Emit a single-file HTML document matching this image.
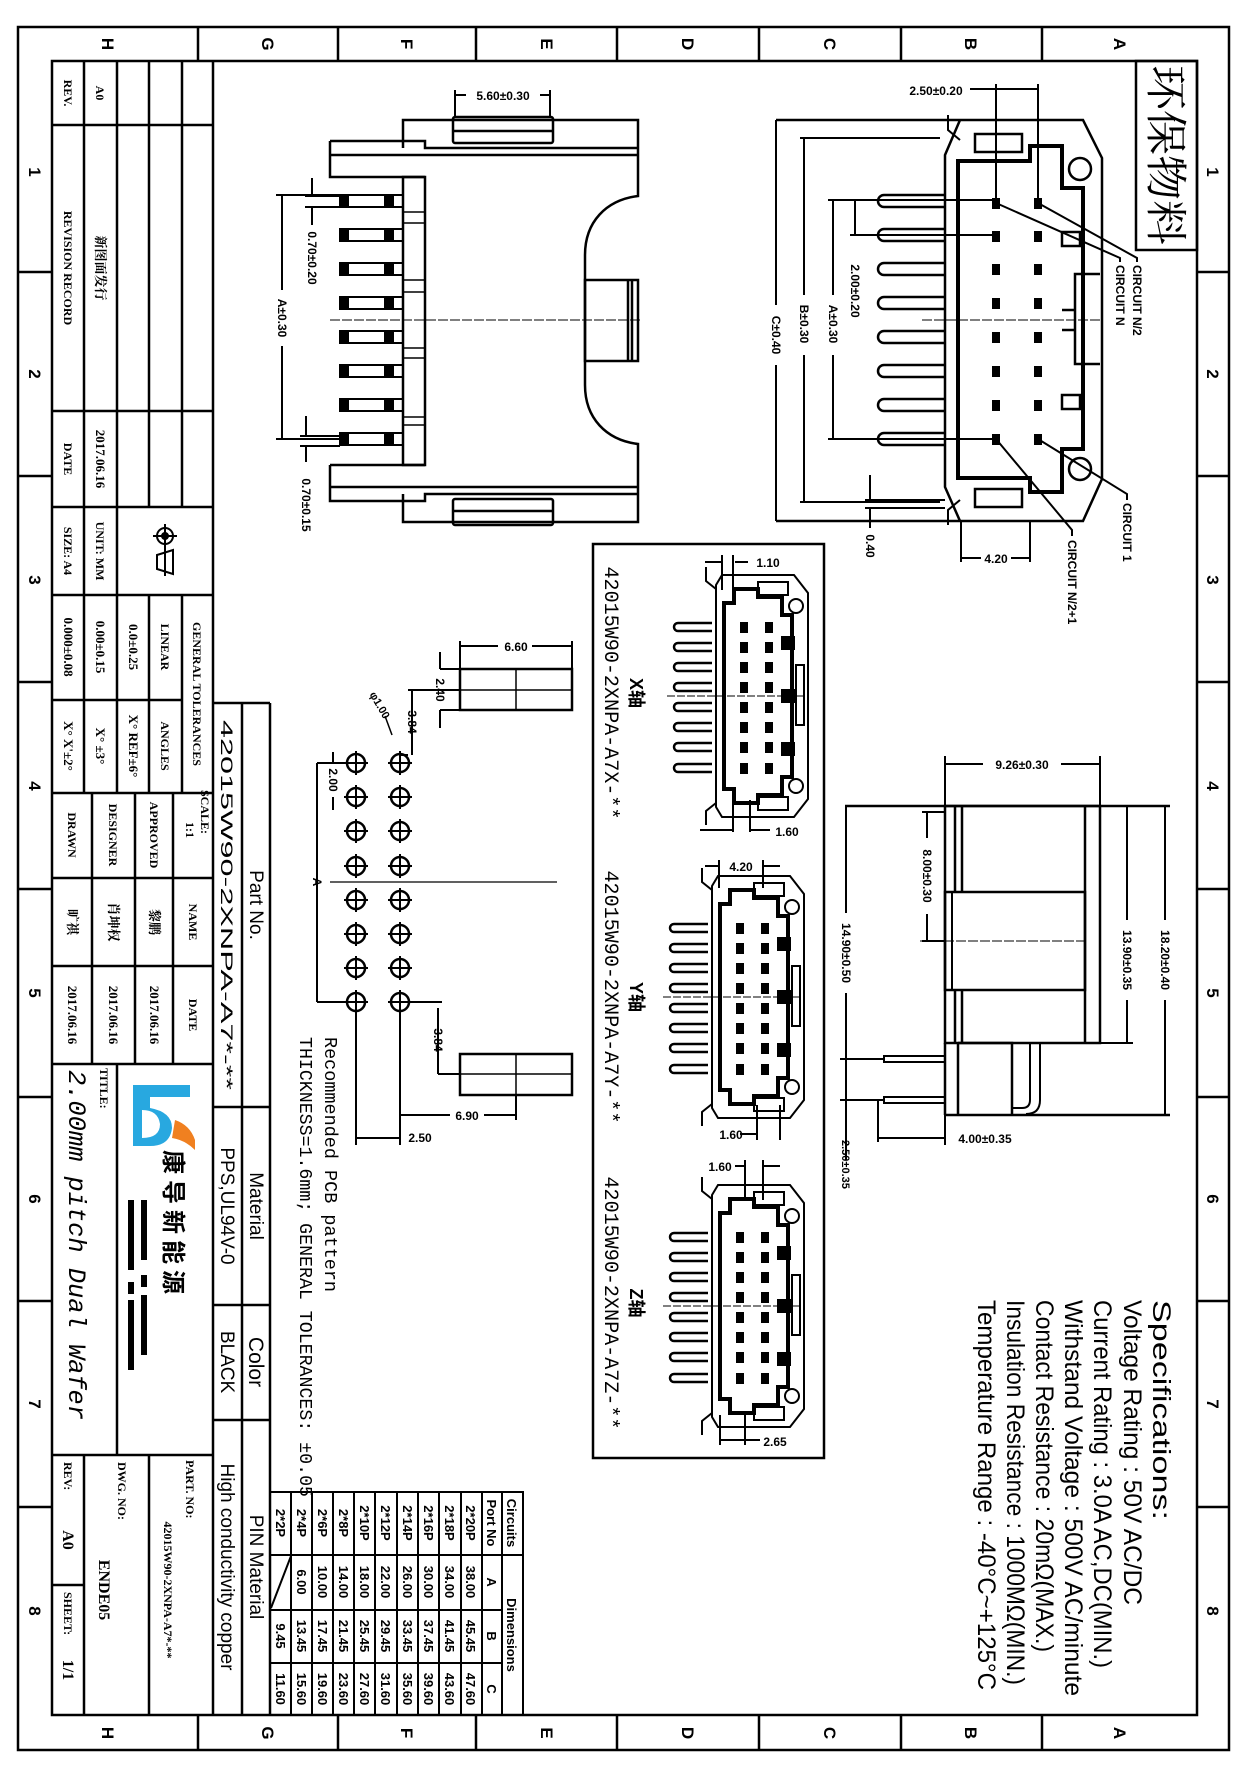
<!DOCTYPE html>
<html><head><meta charset="utf-8"><style>
html,body{margin:0;padding:0;background:#fff;}
svg{display:block}
.s{font-family:"Liberation Sans","Noto Sans CJK SC",sans-serif;}
.m{font-family:"Liberation Mono","Noto Sans CJK SC",monospace;}
.f{font-family:"Liberation Serif","Noto Serif CJK SC",serif;}
.d{font-family:"Liberation Sans",sans-serif;font-size:12px;font-weight:bold;}
</style></head><body>
<svg width="1249" height="1778" viewBox="0 0 1249 1778" xmlns="http://www.w3.org/2000/svg">
<rect width="1249" height="1778" fill="#fff"/>
<defs>
<g id="pinF"><path d="M945,-6 H884 A6,6 0 0 0 884,6 H945" fill="none" stroke="#000" stroke-width="2.5"/></g>
<g id="cr" fill="#000"><rect x="992" y="-5" width="8" height="11"/><rect x="1034" y="-5" width="8" height="11"/></g>
<g id="pinS"><rect x="340" y="-6" width="63" height="12" fill="none" stroke="#000" stroke-width="2"/><rect x="340" y="-6" width="9" height="12" fill="#000"/><rect x="384" y="-6" width="10" height="12" fill="#000"/></g>
<g id="hole"><circle r="9" fill="none" stroke="#000" stroke-width="2.5"/><line x1="-12" y1="0" x2="12" y2="0" stroke="#000" stroke-width="2"/><line x1="0" y1="-12" x2="0" y2="12" stroke="#000" stroke-width="2"/></g>
<g id="mp"><path d="M0,-4 H-34 A4,4 0 0 0 -34,4 H0" fill="none" stroke="#000" stroke-width="2.5"/><rect x="29" y="-4" width="6" height="9" fill="#000"/><rect x="54" y="-4" width="6" height="9" fill="#000"/></g>
<g id="mc" fill="none" stroke="#000" stroke-width="2">
 <path d="M10,0 H82 L96,18 V224 L82,242 H10 L4,232 V10 Z"/>
 <path d="M12,28 H22 V14 H46 V22 H70 V40 H80 V202 H70 V220 H46 V228 H22 V214 H12 Z" stroke-width="4"/>
 <rect x="46" y="7" width="30" height="13"/><rect x="46" y="222" width="30" height="13"/>
 <circle cx="84" cy="31" r="7"/><circle cx="84" cy="211" r="7"/>
 <rect x="70" y="62" width="12" height="12" fill="#000"/><rect x="70" y="115" width="12" height="12" fill="#000"/><rect x="70" y="168" width="12" height="12" fill="#000"/>
 <rect x="84" y="90" width="8" height="60"/>
 <path d="M-6,-8 V6 L4,14"/><path d="M-6,250 V236 L4,228"/>
 <line x1="-45" y1="121" x2="96" y2="121" stroke-width="1" stroke-dasharray="8,2"/>
 <use href="#mp" y="52"/><use href="#mp" y="72"/><use href="#mp" y="92"/><use href="#mp" y="112"/><use href="#mp" y="132"/><use href="#mp" y="152"/><use href="#mp" y="172"/><use href="#mp" y="193"/>
</g>
</defs>

<!-- FRAME -->
<g fill="none" stroke="#000" stroke-width="2.5">
<rect x="18" y="27" width="1211" height="1723"/>
<rect x="52" y="61" width="1145" height="1654"/>
<path d="M198,27V61M338,27V61M476,27V61M617,27V61M759,27V61M901,27V61M1042,27V61 M198,1715V1750M338,1715V1750M476,1715V1750M617,1715V1750M759,1715V1750M901,1715V1750M1042,1715V1750 M18,272H52M18,476H52M18,682H52M18,889H52M18,1097H52M18,1301H52M18,1507H52 M1197,272H1229M1197,476H1229M1197,682H1229M1197,889H1229M1197,1097H1229M1197,1301H1229M1197,1507H1229"/>
</g>
<g class="s" font-size="17" font-weight="bold" text-anchor="middle">
<text transform="translate(108,44) rotate(90)" dy="6">H</text><text transform="translate(268,44) rotate(90)" dy="6">G</text><text transform="translate(407,44) rotate(90)" dy="6">F</text><text transform="translate(547,44) rotate(90)" dy="6">E</text><text transform="translate(688,44) rotate(90)" dy="6">D</text><text transform="translate(830,44) rotate(90)" dy="6">C</text><text transform="translate(971,44) rotate(90)" dy="6">B</text><text transform="translate(1120,44) rotate(90)" dy="6">A</text>
<text transform="translate(108,1733) rotate(90)" dy="6">H</text><text transform="translate(268,1733) rotate(90)" dy="6">G</text><text transform="translate(407,1733) rotate(90)" dy="6">F</text><text transform="translate(547,1733) rotate(90)" dy="6">E</text><text transform="translate(688,1733) rotate(90)" dy="6">D</text><text transform="translate(830,1733) rotate(90)" dy="6">C</text><text transform="translate(971,1733) rotate(90)" dy="6">B</text><text transform="translate(1120,1733) rotate(90)" dy="6">A</text>
<text transform="translate(35,172) rotate(90)" dy="6">1</text><text transform="translate(35,374) rotate(90)" dy="6">2</text><text transform="translate(35,580) rotate(90)" dy="6">3</text><text transform="translate(35,786) rotate(90)" dy="6">4</text><text transform="translate(35,993) rotate(90)" dy="6">5</text><text transform="translate(35,1199) rotate(90)" dy="6">6</text><text transform="translate(35,1404) rotate(90)" dy="6">7</text><text transform="translate(35,1611) rotate(90)" dy="6">8</text>
<text transform="translate(1213,172) rotate(90)" dy="6">1</text><text transform="translate(1213,374) rotate(90)" dy="6">2</text><text transform="translate(1213,580) rotate(90)" dy="6">3</text><text transform="translate(1213,786) rotate(90)" dy="6">4</text><text transform="translate(1213,993) rotate(90)" dy="6">5</text><text transform="translate(1213,1199) rotate(90)" dy="6">6</text><text transform="translate(1213,1404) rotate(90)" dy="6">7</text><text transform="translate(1213,1611) rotate(90)" dy="6">8</text>
</g>

<!-- TITLE BLOCK LINES -->
<g fill="none" stroke="#000" stroke-width="2.5">
<path d="M84,61V793 M117,61V793 M149,61V507 M149,595V793 M182,61V507 M182,595V793 M213,61V1715
M52,125H213 M52,411H213 M52,507H213 M52,595H213 M52,700H182 M52,793H213
M92,793V1064 M135,793V1064 M173,793V1064 M52,878H213 M52,966H213 M52,1064H213
M117,1064V1455 M52,1455H213 M84,1455V1715 M149,1455V1715 M52,1585H84
M242,703V1715 M270,703V1715 M213,703H270 M213,1107H270 M213,1305H270 M213,1420H270"/>
</g>
<g class="f" font-size="12" font-weight="bold" text-anchor="middle">
<text transform="translate(68,93) rotate(90)" dy="4">REV.</text>
<text transform="translate(100,93) rotate(90)" dy="4">A0</text>
<text transform="translate(68,268) rotate(90)" dy="4">REVISION RECORD</text>
<text transform="translate(100,268) rotate(90)" dy="4" font-size="13">新图面发行</text>
<text transform="translate(68,459) rotate(90)" dy="4">DATE</text>
<text transform="translate(100,459) rotate(90)" dy="4" font-size="13">2017.06.16</text>
<text transform="translate(68,551) rotate(90)" dy="4">SIZE: A4</text>
<text transform="translate(100,551) rotate(90)" dy="4">UNIT: MM</text>
<text transform="translate(68,647) rotate(90)" dy="4" font-size="13">0.000±0.08</text>
<text transform="translate(100,647) rotate(90)" dy="4" font-size="13">0.00±0.15</text>
<text transform="translate(133,647) rotate(90)" dy="4" font-size="13">0.0±0.25</text>
<text transform="translate(165,647) rotate(90)" dy="4">LINEAR</text>
<text transform="translate(197,694) rotate(90)" dy="4">GENERAL TOLERANCES</text>
<text transform="translate(68,746) rotate(90)" dy="4" font-size="13">X° X'±2°</text>
<text transform="translate(100,746) rotate(90)" dy="4" font-size="13">X° ±3°</text>
<text transform="translate(133,746) rotate(90)" dy="4" font-size="13">X° REF±6°</text>
<text transform="translate(165,746) rotate(90)" dy="4">ANGLES</text>
<text transform="translate(72,835) rotate(90)" dy="4">DRAWN</text>
<text transform="translate(113,835) rotate(90)" dy="4">DESIGNER</text>
<text transform="translate(154,835) rotate(90)" dy="4">APPROVED</text>
<text transform="translate(205,812) rotate(90)" dy="4">SCALE:</text>
<text transform="translate(190,830) rotate(90)" dy="4">1:1</text>
<text transform="translate(72,922) rotate(90)" dy="4" font-size="13">旷祺</text>
<text transform="translate(113,922) rotate(90)" dy="4" font-size="13">肖坤权</text>
<text transform="translate(154,922) rotate(90)" dy="4" font-size="13">黎鹏</text>
<text transform="translate(193,922) rotate(90)" dy="4">NAME</text>
<text transform="translate(72,1015) rotate(90)" dy="4" font-size="13">2017.06.16</text>
<text transform="translate(113,1015) rotate(90)" dy="4" font-size="13">2017.06.16</text>
<text transform="translate(154,1015) rotate(90)" dy="4" font-size="13">2017.06.16</text>
<text transform="translate(193,1015) rotate(90)" dy="4">DATE</text>
<text transform="translate(104,1068) rotate(90)" dy="4" text-anchor="start">TITLE:</text>
<text transform="translate(68,1462) rotate(90)" dy="4" text-anchor="start">REV:</text>
<text transform="translate(68,1540) rotate(90)" dy="5" font-size="16">A0</text>
<text transform="translate(68,1592) rotate(90)" dy="4" text-anchor="start">SHEET:</text>
<text transform="translate(68,1670) rotate(90)" dy="5" font-size="16">1/1</text>
<text transform="translate(122,1462) rotate(90)" dy="4" text-anchor="start">DWG. NO:</text>
<text transform="translate(104,1590) rotate(90)" dy="5" font-size="16">ENDE05</text>
<text transform="translate(190,1460) rotate(90)" dy="4" text-anchor="start">PART. NO:</text>
<text transform="translate(168,1590) rotate(90)" dy="4">42015W90-2XNPA-A7*-**</text>
</g>
<!-- projection symbol -->
<g fill="none" stroke="#000" stroke-width="2">
<circle cx="165" cy="536" r="8"/><circle cx="165" cy="536" r="3" fill="#000"/><path d="M153,536H177M165,524V548"/>
<path d="M157,555 L173,550 L173,574 L157,569 Z M165,548V576"/>
</g>
<g class="m" font-size="25" font-style="italic">
<text transform="translate(78,1070) rotate(90)" dy="9" textLength="350" lengthAdjust="spacingAndGlyphs">2.00mm pitch Dual Wafer</text>
</g>
<!-- logo -->
<path d="M133,1085 L190,1085 L190,1097 L150,1097 L150,1108 Q172,1112 172,1128 Q170,1146 150,1146 L133,1146 Z" fill="#28a8e0"/>
<path d="M142,1100 L142,1138 Q160,1138 160,1124 Q158,1110 142,1110" fill="#fff"/>
<path d="M175,1120 Q190,1125 195,1140 L195,1150 Q185,1140 172,1138 Z" fill="#f08020"/>
<g class="s" font-size="24" font-weight="bold" text-anchor="start">
<text transform="translate(173,1150) rotate(90)" dy="8" letter-spacing="6">康导新能源</text>
</g>
<g fill="#000"><rect x="141" y="1200" width="6" height="60"/><rect x="141" y="1275" width="6" height="12"/><rect x="141" y="1295" width="6" height="60"/><rect x="128" y="1200" width="6" height="70"/><rect x="128" y="1282" width="6" height="12"/><rect x="128" y="1300" width="6" height="70"/></g>
<g class="s" text-anchor="middle">
<text transform="translate(256,905) rotate(90)" dy="6" font-size="19">Part No.</text>
<text transform="translate(227,905) rotate(90)" dy="6" font-size="17" textLength="370" lengthAdjust="spacingAndGlyphs">42015W90-2XNPA-A7*-**</text>
<text transform="translate(256,1206) rotate(90)" dy="6" font-size="19">Material</text>
<text transform="translate(227,1206) rotate(90)" dy="6" font-size="19">PPS,UL94V-0</text>
<text transform="translate(256,1362) rotate(90)" dy="7" font-size="21">Color</text>
<text transform="translate(227,1362) rotate(90)" dy="6" font-size="19">BLACK</text>
<text transform="translate(256,1567) rotate(90)" dy="6" font-size="19">PIN Material</text>
<text transform="translate(227,1567) rotate(90)" dy="6" font-size="19">High conductivity copper</text>
</g>

<!-- DIMENSION TABLE -->
<g fill="none" stroke="#000" stroke-width="2">
<rect x="270" y="1492" width="253" height="223"/>
<path d="M291,1492V1715M312,1492V1715M333,1492V1715M354,1492V1715M375,1492V1715M397,1492V1715M418,1492V1715M439,1492V1715M461,1492V1715M482,1492V1715M502,1492V1715 M270,1555H523 M270,1610H502 M270,1663H502 M271,1608 L291,1556"/>
</g>
<g class="s" font-size="13" font-weight="bold" text-anchor="middle">
<text transform="translate(512,1523) rotate(90)" dy="5">Circuits</text>
<text transform="translate(492,1523) rotate(90)" dy="5">Port No</text>
<text transform="translate(512,1635) rotate(90)" dy="5">Dimensions</text>
<text transform="translate(492,1582) rotate(90)" dy="5">A</text><text transform="translate(492,1636) rotate(90)" dy="5">B</text><text transform="translate(492,1689) rotate(90)" dy="5">C</text>
<text transform="translate(471,1523) rotate(90)" dy="5">2*20P</text><text transform="translate(471,1582) rotate(90)" dy="5">38.00</text><text transform="translate(471,1636) rotate(90)" dy="5">45.45</text><text transform="translate(471,1689) rotate(90)" dy="5">47.60</text>
<text transform="translate(450,1523) rotate(90)" dy="5">2*18P</text><text transform="translate(450,1582) rotate(90)" dy="5">34.00</text><text transform="translate(450,1636) rotate(90)" dy="5">41.45</text><text transform="translate(450,1689) rotate(90)" dy="5">43.60</text>
<text transform="translate(429,1523) rotate(90)" dy="5">2*16P</text><text transform="translate(429,1582) rotate(90)" dy="5">30.00</text><text transform="translate(429,1636) rotate(90)" dy="5">37.45</text><text transform="translate(429,1689) rotate(90)" dy="5">39.60</text>
<text transform="translate(408,1523) rotate(90)" dy="5">2*14P</text><text transform="translate(408,1582) rotate(90)" dy="5">26.00</text><text transform="translate(408,1636) rotate(90)" dy="5">33.45</text><text transform="translate(408,1689) rotate(90)" dy="5">35.60</text>
<text transform="translate(386,1523) rotate(90)" dy="5">2*12P</text><text transform="translate(386,1582) rotate(90)" dy="5">22.00</text><text transform="translate(386,1636) rotate(90)" dy="5">29.45</text><text transform="translate(386,1689) rotate(90)" dy="5">31.60</text>
<text transform="translate(365,1523) rotate(90)" dy="5">2*10P</text><text transform="translate(365,1582) rotate(90)" dy="5">18.00</text><text transform="translate(365,1636) rotate(90)" dy="5">25.45</text><text transform="translate(365,1689) rotate(90)" dy="5">27.60</text>
<text transform="translate(344,1523) rotate(90)" dy="5">2*8P</text><text transform="translate(344,1582) rotate(90)" dy="5">14.00</text><text transform="translate(344,1636) rotate(90)" dy="5">21.45</text><text transform="translate(344,1689) rotate(90)" dy="5">23.60</text>
<text transform="translate(323,1523) rotate(90)" dy="5">2*6P</text><text transform="translate(323,1582) rotate(90)" dy="5">10.00</text><text transform="translate(323,1636) rotate(90)" dy="5">17.45</text><text transform="translate(323,1689) rotate(90)" dy="5">19.60</text>
<text transform="translate(302,1523) rotate(90)" dy="5">2*4P</text><text transform="translate(302,1582) rotate(90)" dy="5">6.00</text><text transform="translate(302,1636) rotate(90)" dy="5">13.45</text><text transform="translate(302,1689) rotate(90)" dy="5">15.60</text>
<text transform="translate(281,1523) rotate(90)" dy="5">2*2P</text><text transform="translate(281,1636) rotate(90)" dy="5">9.45</text><text transform="translate(281,1689) rotate(90)" dy="5">11.60</text>
</g>

<!-- SIDE VIEW (top-left) -->
<g fill="none" stroke="#000" stroke-width="2.5">
<path d="M403,148 V120 H638 V196 C606,200 585,222 585,255 V385 C585,418 606,440 638,444 V522 H403 V494"/>
<path d="M330,141 H425 V148 H638 M330,141 V177 H425 M330,155 H638"/>
<path d="M330,465 H425 M330,465 V501 H425 V494 H638 M330,487 H638"/>
<rect x="403" y="177" width="22" height="288"/>
<rect x="453" y="117" width="100" height="26" rx="2"/><path d="M453,131H553"/>
<rect x="453" y="499" width="100" height="26" rx="2"/><path d="M453,511H553"/>
<rect x="585" y="280" width="53" height="81"/><path d="M628,280V361M632,280V361"/>
<path d="M403,212H425M403,223H425M403,280H425M403,292H425M403,348H425M403,358H425M403,417H425M403,425H425" stroke-width="1.5"/>
</g>
<use href="#pinS" y="201"/><use href="#pinS" y="235"/><use href="#pinS" y="269"/><use href="#pinS" y="303"/><use href="#pinS" y="337"/><use href="#pinS" y="371"/><use href="#pinS" y="405"/><use href="#pinS" y="439"/>
<line x1="330" y1="320" x2="640" y2="320" stroke="#000" stroke-width="1" stroke-dasharray="10,2"/>
<g fill="none" stroke="#000" stroke-width="2">
<path d="M455,90V117M550,90V117M455,95H550"/>
<path d="M276,195H340M276,439H340M282,195V439"/>
<path d="M312,178V196M312,207V225M305,196H340M305,207H340"/>
<path d="M306,416V436M306,446V462M300,436H340M300,446H340"/>
</g>
<g class="d" text-anchor="middle">
<rect x="466" y="87" width="74" height="16" fill="#fff"/><text x="503" y="100">5.60±0.30</text>
<rect x="274" y="290" width="16" height="56" fill="#fff"/><text transform="translate(282,318) rotate(90)" dy="4">A±0.30</text>
<text transform="translate(312,258) rotate(90)" dy="4">0.70±0.20</text>
<text transform="translate(306,505) rotate(90)" dy="4">0.70±0.15</text>
</g>

<!-- FRONT VIEW (top-right) -->
<g fill="none" stroke="#000" stroke-width="2.5">
<path d="M776,120 H1083 L1102,158 V479 L1083,521 H776"/>
<path d="M960,120 L945,155 V487 L960,521"/>
<path d="M958,161 H1030 V146 H1062 V188 H1083 V449 H1062 V492 H1030 V478 H958 Z" stroke-width="4"/>
<rect x="975" y="134" width="47" height="18"/><rect x="975" y="489" width="47" height="18"/>
<circle cx="1080" cy="169" r="11"/><circle cx="1080" cy="469" r="11"/>
<rect x="1062" y="232" width="18" height="14"/><rect x="1062" y="395" width="18" height="14"/>
<path d="M1062,310 H1075 V274 H1100 M1075,310 V364 H1100 M1062,330H1075"/>
<path d="M948,115 V130 L960,140 M948,525 V510 L960,500" stroke-width="2"/>
</g>
<use href="#pinF" y="201"/><use href="#pinF" y="235"/><use href="#pinF" y="269"/><use href="#pinF" y="303"/><use href="#pinF" y="337"/><use href="#pinF" y="371"/><use href="#pinF" y="405"/><use href="#pinF" y="439"/>
<use href="#cr" y="203"/><use href="#cr" y="236"/><use href="#cr" y="269"/><use href="#cr" y="303"/><use href="#cr" y="337"/><use href="#cr" y="371"/><use href="#cr" y="405"/><use href="#cr" y="439"/>
<line x1="922" y1="320" x2="1100" y2="320" stroke="#000" stroke-width="1" stroke-dasharray="10,2"/>
<g fill="none" stroke="#000" stroke-width="2">
<path d="M776,120V521 M800,138H940 M800,502H940 M804,138V502 M828,200H992 M828,439H992 M833,200V439 M850,235H992 M855,200V235"/>
<path d="M970,89H1038 M996,84V200 M1038,84V200"/>
<path d="M996,203 L1120,258 V262 M1038,203 L1137,258 V262 M1038,439 L1127,494 V500 M996,439 L1072,530 V536"/>
<path d="M961,521V562 M1030,521V562 M961,558H1030"/>
<path d="M870,475V500 M870,508V528 M865,500H945 M865,508H945"/>
</g>
<g class="d" text-anchor="middle">
<rect x="768" y="305" width="16" height="60" fill="#fff"/><text transform="translate(776,335) rotate(90)" dy="4">C±0.40</text>
<rect x="796" y="295" width="16" height="60" fill="#fff"/><text transform="translate(804,324) rotate(90)" dy="4">B±0.30</text>
<rect x="825" y="295" width="16" height="60" fill="#fff"/><text transform="translate(833,324) rotate(90)" dy="4">A±0.30</text>
<text transform="translate(855,291) rotate(90)" dy="4">2.00±0.20</text>
<text x="936" y="95">2.50±0.20</text>
<rect x="981" y="550" width="30" height="16" fill="#fff"/><text x="996" y="563">4.20</text>
<text transform="translate(870,546) rotate(90)" dy="4">0.40</text>
<text transform="translate(1137,265) rotate(90)" dy="4" text-anchor="start">CIRCUIT N/2</text>
<text transform="translate(1120,265) rotate(90)" dy="4" text-anchor="start">CIRCUIT N</text>
<text transform="translate(1127,503) rotate(90)" dy="4" text-anchor="start">CIRCUIT 1</text>
<text transform="translate(1072,540) rotate(90)" dy="4" text-anchor="start">CIRCUIT N/2+1</text>
</g>
<rect x="1136" y="61" width="61" height="189" fill="none" stroke="#000" stroke-width="2.5"/>
<text class="f" transform="translate(1166,155) rotate(90)" text-anchor="middle" dy="15" font-size="42" textLength="180" lengthAdjust="spacingAndGlyphs">环保物料</text>

<!-- PCB PATTERN -->
<g>
<use href="#hole" x="356" y="763"/><use href="#hole" x="400" y="763"/>
<use href="#hole" x="356" y="797"/><use href="#hole" x="400" y="797"/>
<use href="#hole" x="356" y="831"/><use href="#hole" x="400" y="831"/>
<use href="#hole" x="356" y="866"/><use href="#hole" x="400" y="866"/>
<use href="#hole" x="356" y="900"/><use href="#hole" x="400" y="900"/>
<use href="#hole" x="356" y="934"/><use href="#hole" x="400" y="934"/>
<use href="#hole" x="356" y="968"/><use href="#hole" x="400" y="968"/>
<use href="#hole" x="356" y="1002"/><use href="#hole" x="400" y="1002"/>
</g>
<g fill="none" stroke="#000" stroke-width="2.5">
<rect x="460" y="669" width="112" height="41"/><path d="M516,669V710M460,690H572" stroke-width="1.5"/>
<rect x="460" y="1054" width="112" height="41"/><path d="M516,1054V1095M460,1074H572" stroke-width="1.5"/>
</g>
<line x1="330" y1="882" x2="557" y2="882" stroke="#000" stroke-width="1.2"/>
<g fill="none" stroke="#000" stroke-width="2">
<path d="M460,641V669 M572,641V669 M460,646H572"/>
<path d="M440,652V669 M440,710V728 M440,669H460 M440,710H460"/>
<path d="M412,690V755 M408,690H460 M408,755H400"/>
<path d="M317,763H348 M317,1002H348 M317,763V1002"/>
<path d="M333,752V763 M333,797V810"/>
<path d="M400,1002H442 M438,1008V1074 M438,1074H460"/>
<path d="M400,1010V1145 M356,1010V1145 M516,1095V1120 M400,1115H516 M356,1138H400"/>
<path d="M392,735 L385,716" stroke-width="1.5"/>
</g>
<g class="d" text-anchor="middle">
<rect x="498" y="638" width="34" height="16" fill="#fff"/><text x="516" y="651">6.60</text>
<text transform="translate(440,690) rotate(90)" dy="4">2.40</text>
<text transform="translate(412,722) rotate(90)" dy="4">3.84</text>
<text transform="translate(380,705) rotate(60)" dy="4" font-size="11">φ1.00</text>
<text transform="translate(333,780) rotate(90)" dy="4">2.00</text>
<text transform="translate(317,882) rotate(90)" dy="4">A</text>
<text transform="translate(438,1040) rotate(90)" dy="4">3.84</text>
<rect x="450" y="1107" width="34" height="16" fill="#fff"/><text x="467" y="1120">6.90</text>
<text x="420" y="1142">2.50</text>
</g>
<g class="m" font-size="18">
<text transform="translate(331,1037) rotate(90)" dy="6" textLength="255" lengthAdjust="spacingAndGlyphs">Recommended PCB pattern</text>
<text transform="translate(306,1037) rotate(90)" dy="6" textLength="460" lengthAdjust="spacingAndGlyphs">THICKNESS=1.6mm; GENERAL TOLERANCES: ±0.05</text>
</g>

<!-- BOXED VIEWS -->
<rect x="593" y="544" width="231" height="914" fill="none" stroke="#000" stroke-width="2.5"/>
<use href="#mc" x="712" y="575"/>
<use href="#mc" x="708" y="876"/>
<use href="#mc" x="708" y="1185"/>
<g fill="none" stroke="#000" stroke-width="2">
<path d="M722,555V590 M733,555V590 M735,562H748 M705,562H722"/>
<path d="M733,800V832 M750,800V832 M700,830H733 M750,830H770"/>
<path d="M719,860V888 M763,860V888 M705,866H719 M763,866H780"/>
<path d="M757,1105V1140 M780,1105V1140 M740,1134H757"/>
<path d="M745,1160V1200 M763,1160V1200 M735,1166H745 M763,1166H780"/>
<path d="M720,1415V1445 M745,1415V1445 M720,1440H760"/>
</g>
<g class="d" font-size="13" text-anchor="middle">
<text x="768" y="567">1.10</text><text x="787" y="836">1.60</text>
<text x="741" y="871">4.20</text><text x="731" y="1139">1.60</text>
<text x="720" y="1171">1.60</text><text x="775" y="1446">2.65</text>
</g>
<g class="m" font-size="20" text-anchor="middle">
<text transform="translate(612,693) rotate(90)" dy="7" textLength="253" lengthAdjust="spacingAndGlyphs">42015W90-2XNPA-A7X-**</text>
<text transform="translate(612,997) rotate(90)" dy="7" textLength="253" lengthAdjust="spacingAndGlyphs">42015W90-2XNPA-A7Y-**</text>
<text transform="translate(612,1303) rotate(90)" dy="7" textLength="253" lengthAdjust="spacingAndGlyphs">42015W90-2XNPA-A7Z-**</text>
</g>
<g class="s" font-size="18" font-weight="bold" text-anchor="middle">
<text transform="translate(636,693) rotate(90)" dy="6">X轴</text>
<text transform="translate(636,997) rotate(90)" dy="6">Y轴</text>
<text transform="translate(636,1303) rotate(90)" dy="6">Z轴</text>
</g>

<!-- RIGHT SIDE VIEW -->
<g fill="none" stroke="#000" stroke-width="2.5">
<path d="M845,806H1170 M945,1115H1170"/>
<rect x="945" y="806" width="155" height="237"/>
<path d="M955,806V892 M962,806V892 M1085,806V1043 M955,990V1043 M962,990V1043"/>
<rect x="945" y="892" width="140" height="98"/><path d="M952,892V990" stroke-width="2"/>
<path d="M945,1043V1115 M958,1043V1115 M958,1043H1012V1115"/>
<path d="M1030,1043V1100 Q1030,1108 1022,1108 H1012 M1040,1043V1100 Q1040,1114 1026,1114" stroke-width="2"/>
<path d="M945,1056H884 V1062 H945 M945,1097H884 V1103 H945" stroke-width="2"/>
</g>
<line x1="920" y1="941" x2="1085" y2="941" stroke="#000" stroke-width="1" stroke-dasharray="10,2"/>
<g fill="none" stroke="#000" stroke-width="2">
<path d="M945,756V806 M1100,756V806 M945,764H1100"/>
<path d="M846,806V1100 M840,1059H884 M840,1100H884 M846,1100V1160"/>
<path d="M922,812H945 M927,812V941 M922,941H945"/>
<path d="M1100,1043H1133 M1127,806V1043 M1165,806V1115"/>
<path d="M878,1100V1142 M945,1115V1145 M878,1138H945"/>
</g>
<g class="d" text-anchor="middle">
<rect x="983" y="756" width="78" height="16" fill="#fff"/><text x="1022" y="769">9.26±0.30</text>
<rect x="838" y="913" width="16" height="80" fill="#fff"/><text transform="translate(846,953) rotate(90)" dy="4">14.90±0.50</text>
<rect x="919" y="838" width="16" height="76" fill="#fff"/><text transform="translate(927,876) rotate(90)" dy="4">8.00±0.30</text>
<rect x="1119" y="920" width="16" height="80" fill="#fff"/><text transform="translate(1127,960) rotate(90)" dy="4">13.90±0.35</text>
<rect x="1157" y="920" width="16" height="80" fill="#fff"/><text transform="translate(1165,960) rotate(90)" dy="4">18.20±0.40</text>
<text transform="translate(846,1140) rotate(90)" dy="4" text-anchor="start" font-size="11">2.50±0.35</text>
<text x="985" y="1143">4.00±0.35</text>
</g>

<!-- SPECIFICATIONS -->
<g class="s" font-size="25">
<text transform="translate(1162,1300) rotate(90)" dy="9" textLength="220" lengthAdjust="spacingAndGlyphs">Specifications:</text>
<text transform="translate(1133,1300) rotate(90)" dy="9" textLength="305" lengthAdjust="spacingAndGlyphs">Voltage Rating : 50V AC/DC</text>
<text transform="translate(1103,1300) rotate(90)" dy="9" textLength="368" lengthAdjust="spacingAndGlyphs">Current Rating : 3.0A AC,DC(MIN.)</text>
<text transform="translate(1074,1300) rotate(90)" dy="9" textLength="396" lengthAdjust="spacingAndGlyphs">Withstand Voltage : 500V AC/minute</text>
<text transform="translate(1045,1300) rotate(90)" dy="9" textLength="352" lengthAdjust="spacingAndGlyphs">Contact Resistance : 20mΩ(MAX.)</text>
<text transform="translate(1016,1300) rotate(90)" dy="9" textLength="385" lengthAdjust="spacingAndGlyphs">Insulation Resistance : 1000MΩ(MIN.)</text>
<text transform="translate(987,1300) rotate(90)" dy="9" textLength="390" lengthAdjust="spacingAndGlyphs">Temperature Range : -40°C~+125°C</text>
</g>
</svg>
</body></html>
